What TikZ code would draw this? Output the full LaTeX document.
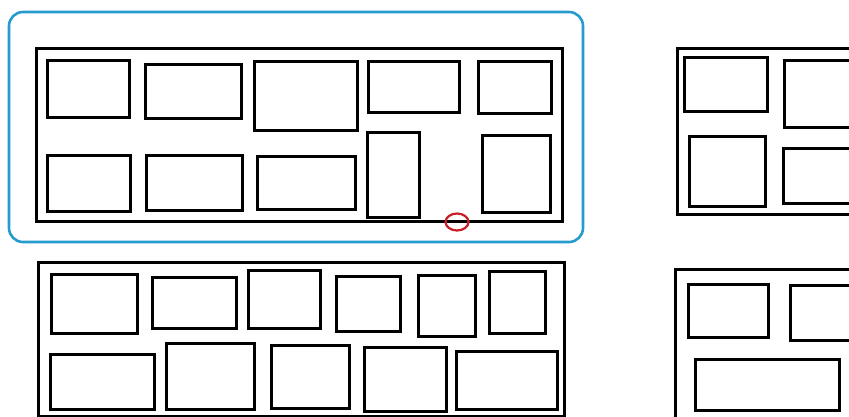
\documentclass[tikz,border=0pt]{standalone}
\begin{document}
\begin{tikzpicture}[x=1pt,y=-1pt,
  frame/.style={draw=black,line width=3pt},
  cell/.style={draw=black,line width=3pt},
  highlight/.style={draw={rgb,255:red,38;green,155;blue,206},line width=2.6pt,rounded corners=14pt},
  marker/.style={draw={rgb,255:red,200;green,30;blue,40},line width=2.2pt}]
\useasboundingbox (0,0) rectangle (849,417);
\clip (0,0) rectangle (849,417);
\fill[white] (0,0) rectangle (849,417);
% highlighted panel
\draw[highlight] (9,12) rectangle (583,242);
\draw[frame] (36,49) rectangle (562,221);
\draw[cell] (47,61) rectangle (129,118);
\draw[cell] (145,65) rectangle (241,119);
\draw[cell] (254,62) rectangle (357,131);
\draw[cell] (368,62) rectangle (459,113);
\draw[cell] (478,62) rectangle (551,114);
\draw[cell] (47,156) rectangle (130,211);
\draw[cell] (146,156) rectangle (242,210);
\draw[cell] (257,157) rectangle (355,209);
\draw[cell] (367,133) rectangle (419,217);
\draw[cell] (482,136) rectangle (550,212);
\draw[marker] (457,222) ellipse [x radius=11.5, y radius=8.5];
% top right panel
\draw[frame] (677,49) rectangle (880,214);
\draw[cell] (684,58) rectangle (767,112);
\draw[cell] (784,61) rectangle (880,128);
\draw[cell] (689,137) rectangle (765,206);
\draw[cell] (783,149) rectangle (880,203);
% bottom left panel
\draw[frame] (38,262) rectangle (564,416);
\draw[cell] (51,274) rectangle (137,333);
\draw[cell] (152,277) rectangle (236,328);
\draw[cell] (248,270) rectangle (320,328);
\draw[cell] (336,276) rectangle (400,331);
\draw[cell] (418,275) rectangle (475,336);
\draw[cell] (489,271) rectangle (545,333);
\draw[cell] (50,354) rectangle (154,409);
\draw[cell] (166,343) rectangle (254,409);
\draw[cell] (271,345) rectangle (349,408);
\draw[cell] (364,347) rectangle (446,411);
\draw[cell] (456,351) rectangle (557,409);
% bottom right panel
\draw[frame] (675,269) rectangle (880,430);
\draw[cell] (688,284) rectangle (768,337);
\draw[cell] (790,285) rectangle (880,340);
\draw[cell] (695,359) rectangle (839,410);
\end{tikzpicture}
\end{document}
